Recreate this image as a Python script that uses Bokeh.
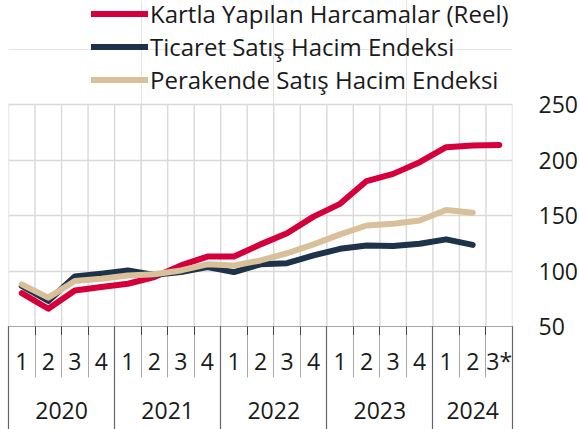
import numpy as np
from bokeh.plotting import figure
from bokeh.models import (FixedTicker, LinearAxis, Legend, LegendItem, Range1d, Grid)
from bokeh.embed import file_html
from bokeh.resources import INLINE

# ---------------- data ----------------
quarters = ["1", "2", "3", "4", "1", "2", "3", "4", "1", "2", "3", "4",
            "1", "2", "3", "4", "1", "2", "3*"]
years = ["2020", "2021", "2022", "2023", "2024"]
year_counts = [4, 4, 4, 4, 3]

kartla = [80, 66, 82.5, 85.5, 88.5, 94.5, 105, 113, 113, 124, 134, 149,
          160.5, 181, 187.5, 198, 211.5, 213, 213.5]
ticaret = [86.5, 73, 95, 97.5, 100.5, 96.5, 99, 103.5, 99, 106, 107, 114,
           120, 123, 122.5, 124.5, 128.5, 123.5]
perakende = [88, 76, 91, 93, 96, 97, 100.5, 106, 105, 109.5, 116, 124,
             133, 141, 142.5, 145.5, 155, 152.5]

series_names = ["Kartla Yapılan Harcamalar (Reel)",
                "Ticaret Satış Hacim Endeksi",
                "Perakende Satış Hacim Endeksi"]
series_colors = ["#d5003b", "#1e3249", "#d8c09b"]
y_ticks = [50, 100, 150, 200, 250]

# ---------------- layout constants (pixels) ----------------
W, H = 580, 429
LEGEND_PX = 104     # space above the 250 line for the legend
PLOT_PX = 222       # height of the 50..250 area
BOTTOM_PX = H - LEGEND_PX - PLOT_PX

n = len(quarters)
centers = [i + 0.5 for i in range(n)]
bounds = list(range(n + 1))
starts = np.concatenate([[0], np.cumsum(year_counts)[:-1]])
year_centers = [float(s + c / 2) for s, c in zip(starts, year_counts)]
year_bounds = [int(v) for v in np.concatenate([[0], np.cumsum(year_counts)])]

y0, y1 = y_ticks[0], y_ticks[-1]
y_top = y1 + LEGEND_PX * (y1 - y0) / PLOT_PX

FONT = "Open Sans"
TXT = "#1a1a1a"
FS = "23px"
GRID = "#d9d9d9"

p = figure(width=W, height=H, x_range=Range1d(0, n), y_range=Range1d(y0, y_top),
           output_backend="svg", toolbar_location=None,
           x_axis_location=None, y_axis_location=None,
           min_border_top=0, min_border_bottom=BOTTOM_PX,
           min_border_left=8, min_border_right=67)
p.outline_line_color = None
p.background_fill_color = "white"
p.border_fill_color = "white"

# horizontal grid
p.add_layout(Grid(dimension=1, ticker=FixedTicker(ticks=y_ticks),
                  grid_line_color=GRID, grid_line_width=1.4))
# vertical grid (only over the 50..250 band)
p.segment(x0=bounds, y0=[y0] * len(bounds), x1=bounds, y1=[y1] * len(bounds),
          line_color=GRID, line_width=1.4)

# lines
renderers = []
for vals, col in zip([kartla, ticaret, perakende], series_colors):
    r = p.line(centers[:len(vals)], vals, line_width=6, line_color=col,
               line_cap="round", line_join="round")
    renderers.append(r)

# right y axis
yax = LinearAxis(ticker=FixedTicker(ticks=y_ticks),
                 major_tick_in=0, major_tick_out=0,
                 minor_tick_in=0, minor_tick_out=0,
                 axis_line_color=None,
                 major_label_standoff=26,
                 major_label_text_font=FONT, major_label_text_font_size=FS,
                 major_label_text_color=TXT)
p.add_layout(yax, "right")

# axis 1: boundary ticks (dark stubs) + quarter separators (grey, below stubs)
ax1 = LinearAxis(ticker=FixedTicker(ticks=bounds, minor_ticks=bounds),
                 major_label_overrides={b: "" for b in bounds},
                 major_tick_in=0, major_tick_out=9,
                 major_tick_line_color="#444444", major_tick_line_width=1,
                 minor_tick_out=9, minor_tick_in=-51,
                 minor_tick_line_color="#a8a8a8", minor_tick_line_width=1,
                 axis_line_color="#a6a6a6", axis_line_width=1,
                 major_label_text_font=FONT,
                 major_label_text_font_size="1px", major_label_text_alpha=0,
                 major_label_standoff=0)
p.add_layout(ax1, "below")

# axis 2: quarter labels + year separators (minor ticks)
ax2 = LinearAxis(ticker=FixedTicker(ticks=centers, minor_ticks=year_bounds),
                 major_label_overrides={c: q for c, q in zip(centers, quarters)},
                 major_tick_in=0, major_tick_out=0,
                 minor_tick_out=-9, minor_tick_in=-(BOTTOM_PX - 9),
                 minor_tick_line_color="#666666", minor_tick_line_width=1.2,
                 axis_line_color=None,
                 major_label_standoff=9,
                 major_label_text_font=FONT, major_label_text_font_size=FS,
                 major_label_text_color=TXT)
p.add_layout(ax2, "below")

# axis 3: year labels
ax3 = LinearAxis(ticker=FixedTicker(ticks=year_centers, minor_ticks=[]),
                 major_label_overrides={c: y for c, y in zip(year_centers, years)},
                 major_tick_in=0, major_tick_out=0,
                 minor_tick_in=0, minor_tick_out=0,
                 axis_line_color=None,
                 major_label_standoff=22,
                 major_label_text_font=FONT, major_label_text_font_size=FS,
                 major_label_text_color=TXT)
p.add_layout(ax3, "below")

legend = Legend(items=[LegendItem(label=nm, renderers=[r])
                       for nm, r in zip(series_names, renderers)],
                location=(83, H - BOTTOM_PX - 96), orientation="vertical",
                glyph_width=57, glyph_height=33, label_height=33,
                spacing=0, padding=0, margin=0, label_standoff=2,
                border_line_color=None, background_fill_alpha=0,
                label_text_font=FONT, label_text_font_size="24px",
                label_text_line_height=1.0,
                label_text_color=TXT)
p.add_layout(legend)

open("out.html", "w").write(file_html(p, INLINE))
